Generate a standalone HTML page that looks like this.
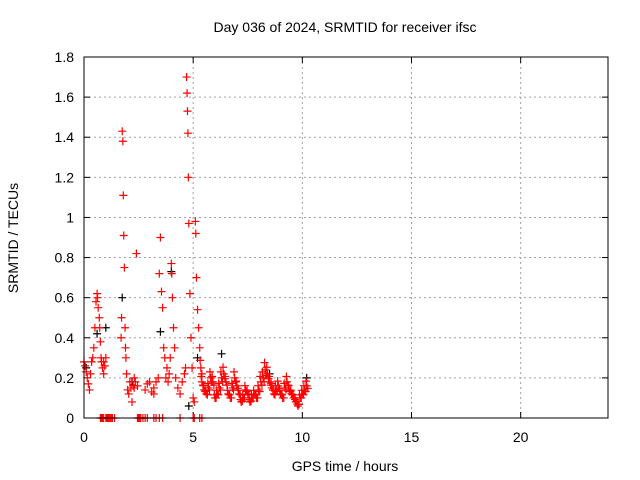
<!DOCTYPE html>
<html><head><meta charset="utf-8"><style>
body{margin:0;background:#fff}
svg{display:block;font-family:"Liberation Sans",sans-serif;font-size:14px}
</style></head><body>
<svg id="chart" width="640" height="480">
<rect width="640" height="480" fill="#fff"/>
<text x="345" y="32" text-anchor="middle">Day 036 of 2024, SRMTID for receiver ifsc</text>
<text x="345" y="471" text-anchor="middle">GPS time / hours</text>
<text transform="translate(18,238) rotate(-90)" text-anchor="middle">SRMTID / TECUs</text>
<g id="grid"></g>
<g id="ticks"></g>
<g id="black"></g>
<g id="red"></g>
<rect x="84" y="57" width="524" height="361" fill="none" stroke="#000"/>
</svg>
<script>
const xTicks=[0,5,10,15,20];
const yTicks=[0,0.2,0.4,0.6,0.8,1,1.2,1.4,1.6,1.8];
const yLabels=["0","0.2","0.4","0.6","0.8","1","1.2","1.4","1.6","1.8"];
const redT=[0,0.05,0.1,0.15,0.2,0.25,0.3,0.35,0.4,0.45,0.5,0.55,0.6,0.62,0.65,0.7,0.72,0.75,0.78,0.8,0.85,0.9,0.95,1.0,1.7,1.72,1.75,1.78,1.8,1.82,1.85,1.88,1.9,1.92,1.95,2.0,2.05,2.1,2.15,2.2,2.25,2.3,2.35,2.4,2.45,2.8,2.9,3.0,3.1,3.2,3.3,3.4,3.45,3.5,3.55,3.6,3.65,3.7,3.75,3.8,3.85,3.9,3.95,4.0,4.02,4.05,4.1,4.15,4.2,4.3,4.4,4.5,4.6,4.65,4.7,4.72,4.74,4.76,4.78,4.8,4.85,4.9,4.95,5.0,5.05,5.1,5.12,5.15,5.2,5.25,5.3,5.35,5.4,5.5,5.6,5.7,5.8,5.9,6.0,6.1,6.2,6.3,6.4,6.5,6.6,6.7,6.8,6.9,7.0,7.1,7.2,7.3,7.4,7.5,7.6,7.7,7.8,7.9,8.0,8.1,8.2,8.3,8.4,8.5,8.6,8.7,8.8,8.9,9.0,9.1,9.2,9.3,9.4,9.5,9.6,9.7,9.8,9.9,10.0,10.1,10.2,
0.75,0.8,0.85,0.9,1.0,1.05,1.1,1.15,1.2,1.25,1.3,1.4,2.45,2.5,2.55,2.6,2.7,2.8,2.9,3.2,3.3,3.45,3.6,4.4,5.0,5.05,5.3,5.4,0.9,2.3,3.2];
const redV=[0.28,0.26,0.23,0.2,0.17,0.14,0.22,0.28,0.3,0.35,0.45,0.58,0.62,0.6,0.55,0.5,0.45,0.38,0.3,0.28,0.25,0.22,0.26,0.3,0.4,0.5,1.43,1.38,1.11,0.91,0.75,0.45,0.35,0.3,0.22,0.14,0.12,0.18,0.15,0.08,0.16,0.2,0.18,0.82,0.16,0.14,0.17,0.18,0.13,0.15,0.18,0.2,0.72,0.9,0.63,0.55,0.35,0.3,0.2,0.25,0.18,0.22,0.3,0.77,0.72,0.6,0.45,0.35,0.2,0.15,0.12,0.18,0.22,0.25,1.7,1.62,1.53,1.42,1.2,0.97,0.62,0.4,0.25,0.1,0.08,0.98,0.92,0.7,0.54,0.45,0.35,0.25,0.18,0.14,0.12,0.15,0.2,0.18,0.1,0.12,0.15,0.2,0.22,0.18,0.12,0.1,0.15,0.2,0.16,0.12,0.08,0.1,0.14,0.12,0.08,0.1,0.12,0.1,0.14,0.18,0.2,0.24,0.22,0.18,0.15,0.12,0.14,0.16,0.12,0.1,0.15,0.18,0.14,0.12,0.1,0.08,0.06,0.1,0.12,0.14,0.16,
0,0,0,0,0,0,0,0,0,0,0,0,0,0,0,0,0,0,0,0,0,0,0,0,0,0,0,0,0.28,0.15,0.12];
const blackT=[0.1,0.6,1.0,1.75,2.2,3.5,4.0,4.8,5.2,6.3,8.5,10.2];
const blackV=[0.25,0.42,0.45,0.6,0.18,0.43,0.73,0.06,0.3,0.32,0.22,0.2];
const X0=84,X1=608,Y0=418,Y1=57;
const xs=t=>X0+t*(X1-X0)/24, ys=v=>Y0-v*(Y0-Y1)/1.8;
const NS='http://www.w3.org/2000/svg';
function mk(tag,attrs,parent){const e=document.createElementNS(NS,tag);for(const k in attrs)e.setAttribute(k,attrs[k]);parent.appendChild(e);return e;}
const grid=document.getElementById('grid'),ticks=document.getElementById('ticks');
yTicks.forEach((v,i)=>{const y=ys(v);
 if(i>0&&i<yTicks.length-1){const g=mk('line',{x1:X0,x2:X1,y1:y,y2:y,stroke:'#a0a0a0','stroke-dasharray':'2,3'},grid);
 
 }
 const t=mk('text',{x:X0-10,y:y+5,'text-anchor':'end'},ticks);t.textContent=yLabels[i];
 
 
 mk('line',{x1:X0,x2:X0+6,y1:y,y2:y,stroke:'#000'},ticks);mk('line',{x1:X1,x2:X1-6,y1:y,y2:y,stroke:'#000'},ticks);});
xTicks.forEach((v,i)=>{const x=xs(v);
 if(i>0){const g=mk('line',{x1:x,x2:x,y1:Y1,y2:Y0,stroke:'#a0a0a0','stroke-dasharray':'2,3'},grid);
 
 }
 const t=mk('text',{x:x,y:Y0+24,'text-anchor':'middle'},ticks);t.textContent=String(v);
 
 
 mk('line',{x1:x,x2:x,y1:Y0,y2:Y0-6,stroke:'#000'},ticks);mk('line',{x1:x,x2:x,y1:Y1,y2:Y1+6,stroke:'#000'},ticks);});
function plus(g,t,v,c){const x=xs(t),y=ys(v);
 const p=mk('path',{d:`M${x-4},${y}h8M${x},${y-4}v8`,stroke:c,'stroke-width':1.2,fill:'none'},g);
 
 }
const bg=document.getElementById('black'),rg=document.getElementById('red');
blackT.forEach((t,i)=>plus(bg,t,blackV[i],'#000'));
redT.forEach((t,i)=>{plus(rg,t,redV[i],'#f00');
 if(redV[i]>0&&redV[i]<0.3&&t>5.3){plus(rg,t+0.05,redV[i]*0.8+0.02,'#f00');plus(rg,t-0.03,redV[i]*1.15,'#f00');}});
</script>
</body></html>
